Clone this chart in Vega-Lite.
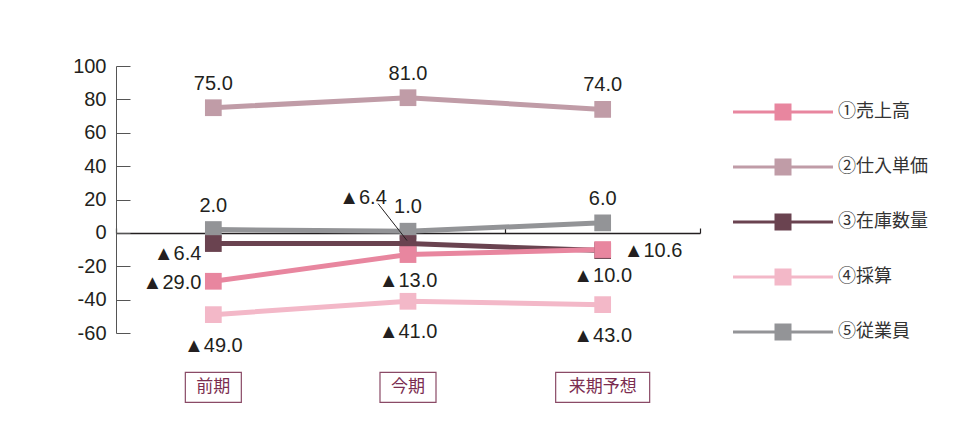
{
  "$schema": "https://vega.github.io/schema/vega-lite/v6.json",
  "width": 584,
  "height": 267,
  "autosize": "none",
  "padding": {"left": 116, "top": 66, "right": 263, "bottom": 92},
  "background": "white",
  "config": {"view": {"stroke": null}, "font": "Liberation Sans"},
  "datasets": {
    "series": [
      {"series": "⑤従業員", "period": "前期", "value": 2.0, "label": "2.0"},
      {"series": "⑤従業員", "period": "今期", "value": 1.0, "label": "1.0"},
      {"series": "⑤従業員", "period": "来期予想", "value": 6.0, "label": "6.0"},
      {"series": "②仕入単価", "period": "前期", "value": 75.0, "label": "75.0"},
      {"series": "②仕入単価", "period": "今期", "value": 81.0, "label": "81.0"},
      {"series": "②仕入単価", "period": "来期予想", "value": 74.0, "label": "74.0"},
      {"series": "④採算", "period": "前期", "value": -49.0, "label": "▲49.0"},
      {"series": "④採算", "period": "今期", "value": -41.0, "label": "▲41.0"},
      {"series": "④採算", "period": "来期予想", "value": -43.0, "label": "▲43.0"},
      {"series": "③在庫数量", "period": "前期", "value": -6.4, "label": "▲6.4"},
      {"series": "③在庫数量", "period": "今期", "value": -6.4, "label": "▲6.4"},
      {"series": "③在庫数量", "period": "来期予想", "value": -10.6, "label": "▲10.6"},
      {"series": "①売上高", "period": "前期", "value": -29.0, "label": "▲29.0"},
      {"series": "①売上高", "period": "今期", "value": -13.0, "label": "▲13.0"},
      {"series": "①売上高", "period": "来期予想", "value": -10.0, "label": "▲10.0"}
    ],
    "periods": [
      {"period": "前期"},
      {"period": "今期"},
      {"period": "来期予想"}
    ]
  },
  "layer": [
    {
      "data": {"name": "series"},
      "mark": {"type": "line", "strokeWidth": 5},
      "encoding": {
        "x": {
          "field": "period", "type": "nominal", "bandPosition": 0.5,
          "sort": ["前期", "今期", "来期予想"],
          "scale": {"type": "band", "paddingInner": 0, "paddingOuter": 0},
          "axis": {
            "orient": "bottom", "offset": -100, "title": null, "labels": false,
            "domain": true, "domainColor": "#231f20", "domainWidth": 1.5,
            "ticks": true, "tickBand": "extent", "tickSize": -5, "tickColor": "#231f20", "tickWidth": 1.2,
            "grid": false
          }
        },
        "y": {
          "field": "value", "type": "quantitative",
          "scale": {"domain": [-60, 100], "nice": false, "zero": false},
          "axis": {
            "title": null, "values": [-60, -40, -20, 0, 20, 40, 60, 80, 100], "tickCount": 20,
            "labelOverlap": false, "labelExpr": "replace(datum.label, '−', '-')",
            "tickSize": -14, "labelPadding": 24, "tickColor": "#555555", "domainColor": "#555555",
            "labelFontSize": 20, "labelColor": "#231f20", "grid": false
          }
        },
        "color": {
          "field": "series", "type": "nominal",
          "scale": {
            "domain": ["①売上高", "②仕入単価", "③在庫数量", "④採算", "⑤従業員"],
            "range": ["#e8869f", "#c09ca7", "#6a4350", "#f3b8c8", "#939497"]
          },
          "legend": {
            "orient": "none", "legendX": 650, "legendY": 29, "title": null, "padding": 0,
            "symbolType": "M-2.94,-0.09H2.94V0.09H-2.94Z M-0.5,-0.5H0.5V0.5H-0.5Z",
            "symbolSize": 1156, "symbolStrokeWidth": 0, "symbolOpacity": 1,
            "labelFont": "Noto Sans CJK JP", "labelFontSize": 18, "labelColor": "#333333",
            "labelOffset": 38, "rowPadding": 29,
            "encode": {"symbols": {"update": {"fill": {"scale": "color", "field": "value"}, "stroke": {"value": "transparent"}}}}
          }
        }
      }
    },
    {
      "data": {"name": "series"},
      "mark": {"type": "point", "shape": "square", "filled": true, "size": 280, "opacity": 1},
      "encoding": {
        "x": {"field": "period", "type": "nominal", "bandPosition": 0.5, "sort": ["前期", "今期", "来期予想"]},
        "y": {"field": "value", "type": "quantitative"},
        "color": {"field": "series", "type": "nominal"}
      }
    },
    {
      "data": {"name": "series"},
      "transform": [{"filter": "datum.series === '②仕入単価' || datum.series === '⑤従業員'"}],
      "mark": {"type": "text", "fontSize": 20, "color": "#231f20", "dy": -24, "align": "center", "baseline": "middle"},
      "encoding": {
        "x": {"field": "period", "type": "nominal", "bandPosition": 0.5, "sort": ["前期", "今期", "来期予想"]},
        "y": {"field": "value", "type": "quantitative"},
        "text": {"field": "label"}
      }
    },
    {
      "data": {"name": "series"},
      "transform": [{"filter": "datum.series === '①売上高' && datum.period !== '前期'"}],
      "mark": {"type": "text", "fontSize": 20, "color": "#231f20", "dy": 26, "align": "center", "baseline": "middle"},
      "encoding": {
        "x": {"field": "period", "type": "nominal", "bandPosition": 0.5, "sort": ["前期", "今期", "来期予想"]},
        "y": {"field": "value", "type": "quantitative"},
        "text": {"field": "label"}
      }
    },
    {
      "data": {"name": "series"},
      "transform": [{"filter": "datum.series === '④採算'"}],
      "mark": {"type": "text", "fontSize": 20, "color": "#231f20", "dy": 31, "align": "center", "baseline": "middle"},
      "encoding": {
        "x": {"field": "period", "type": "nominal", "bandPosition": 0.5, "sort": ["前期", "今期", "来期予想"]},
        "y": {"field": "value", "type": "quantitative"},
        "text": {"field": "label"}
      }
    },
    {
      "data": {"name": "series"},
      "transform": [{"filter": "datum.series === '①売上高' && datum.period === '前期'"}],
      "mark": {"type": "text", "fontSize": 20, "color": "#231f20", "dx": -12, "dy": 2, "align": "right", "baseline": "middle"},
      "encoding": {
        "x": {"field": "period", "type": "nominal", "bandPosition": 0.5, "sort": ["前期", "今期", "来期予想"]},
        "y": {"field": "value", "type": "quantitative"},
        "text": {"field": "label"}
      }
    },
    {
      "data": {"name": "series"},
      "transform": [{"filter": "datum.series === '③在庫数量' && datum.period === '前期'"}],
      "mark": {"type": "text", "fontSize": 20, "color": "#231f20", "dx": -12, "dy": 10, "align": "right", "baseline": "middle"},
      "encoding": {
        "x": {"field": "period", "type": "nominal", "bandPosition": 0.5, "sort": ["前期", "今期", "来期予想"]},
        "y": {"field": "value", "type": "quantitative"},
        "text": {"field": "label"}
      }
    },
    {
      "data": {"name": "series"},
      "transform": [{"filter": "datum.series === '③在庫数量' && datum.period === '来期予想'"}],
      "mark": {"type": "text", "fontSize": 20, "color": "#231f20", "dx": 21, "dy": 0, "align": "left", "baseline": "middle"},
      "encoding": {
        "x": {"field": "period", "type": "nominal", "bandPosition": 0.5, "sort": ["前期", "今期", "来期予想"]},
        "y": {"field": "value", "type": "quantitative"},
        "text": {"field": "label"}
      }
    },
    {
      "data": {"name": "series"},
      "transform": [{"filter": "datum.series === '③在庫数量' && datum.period === '今期'"}],
      "mark": {"type": "text", "fontSize": 20, "color": "#231f20", "dx": -45, "dy": -46, "align": "center", "baseline": "middle"},
      "encoding": {
        "x": {"field": "period", "type": "nominal", "bandPosition": 0.5, "sort": ["前期", "今期", "来期予想"]},
        "y": {"field": "value", "type": "quantitative"},
        "text": {"field": "label"}
      }
    },
    {
      "data": {"name": "series"},
      "transform": [{"filter": "datum.series === '③在庫数量' && datum.period === '今期'"}],
      "mark": {"type": "rule", "color": "#231f20", "strokeWidth": 1, "xOffset": -1, "yOffset": -3, "x2Offset": -30, "y2Offset": -40},
      "encoding": {
        "x": {"field": "period", "type": "nominal", "bandPosition": 0.5, "sort": ["前期", "今期", "来期予想"]},
        "x2": {"field": "period"},
        "y": {"field": "value", "type": "quantitative"},
        "y2": {"field": "value"}
      }
    },
    {
      "data": {"name": "periods"},
      "transform": [{"filter": "datum.period !== '来期予想'"}],
      "mark": {"type": "bar", "width": 56, "fill": "white", "stroke": "#8a4a66", "strokeWidth": 1.2},
      "encoding": {
        "x": {"field": "period", "type": "nominal", "sort": ["前期", "今期", "来期予想"]},
        "y": {"datum": -83.6},
        "y2": {"datum": -101.6}
      }
    },
    {
      "data": {"name": "periods"},
      "transform": [{"filter": "datum.period === '来期予想'"}],
      "mark": {"type": "bar", "width": 94, "fill": "white", "stroke": "#8a4a66", "strokeWidth": 1.2},
      "encoding": {
        "x": {"field": "period", "type": "nominal", "sort": ["前期", "今期", "来期予想"]},
        "y": {"datum": -83.6},
        "y2": {"datum": -101.6}
      }
    },
    {
      "data": {"name": "periods"},
      "mark": {"type": "text", "font": "Noto Sans CJK JP", "fontSize": 17, "color": "#7b2d50", "align": "center", "baseline": "middle"},
      "encoding": {
        "x": {"field": "period", "type": "nominal", "bandPosition": 0.5, "sort": ["前期", "今期", "来期予想"]},
        "y": {"datum": -92.6},
        "text": {"field": "period"}
      }
    }
  ]
}
